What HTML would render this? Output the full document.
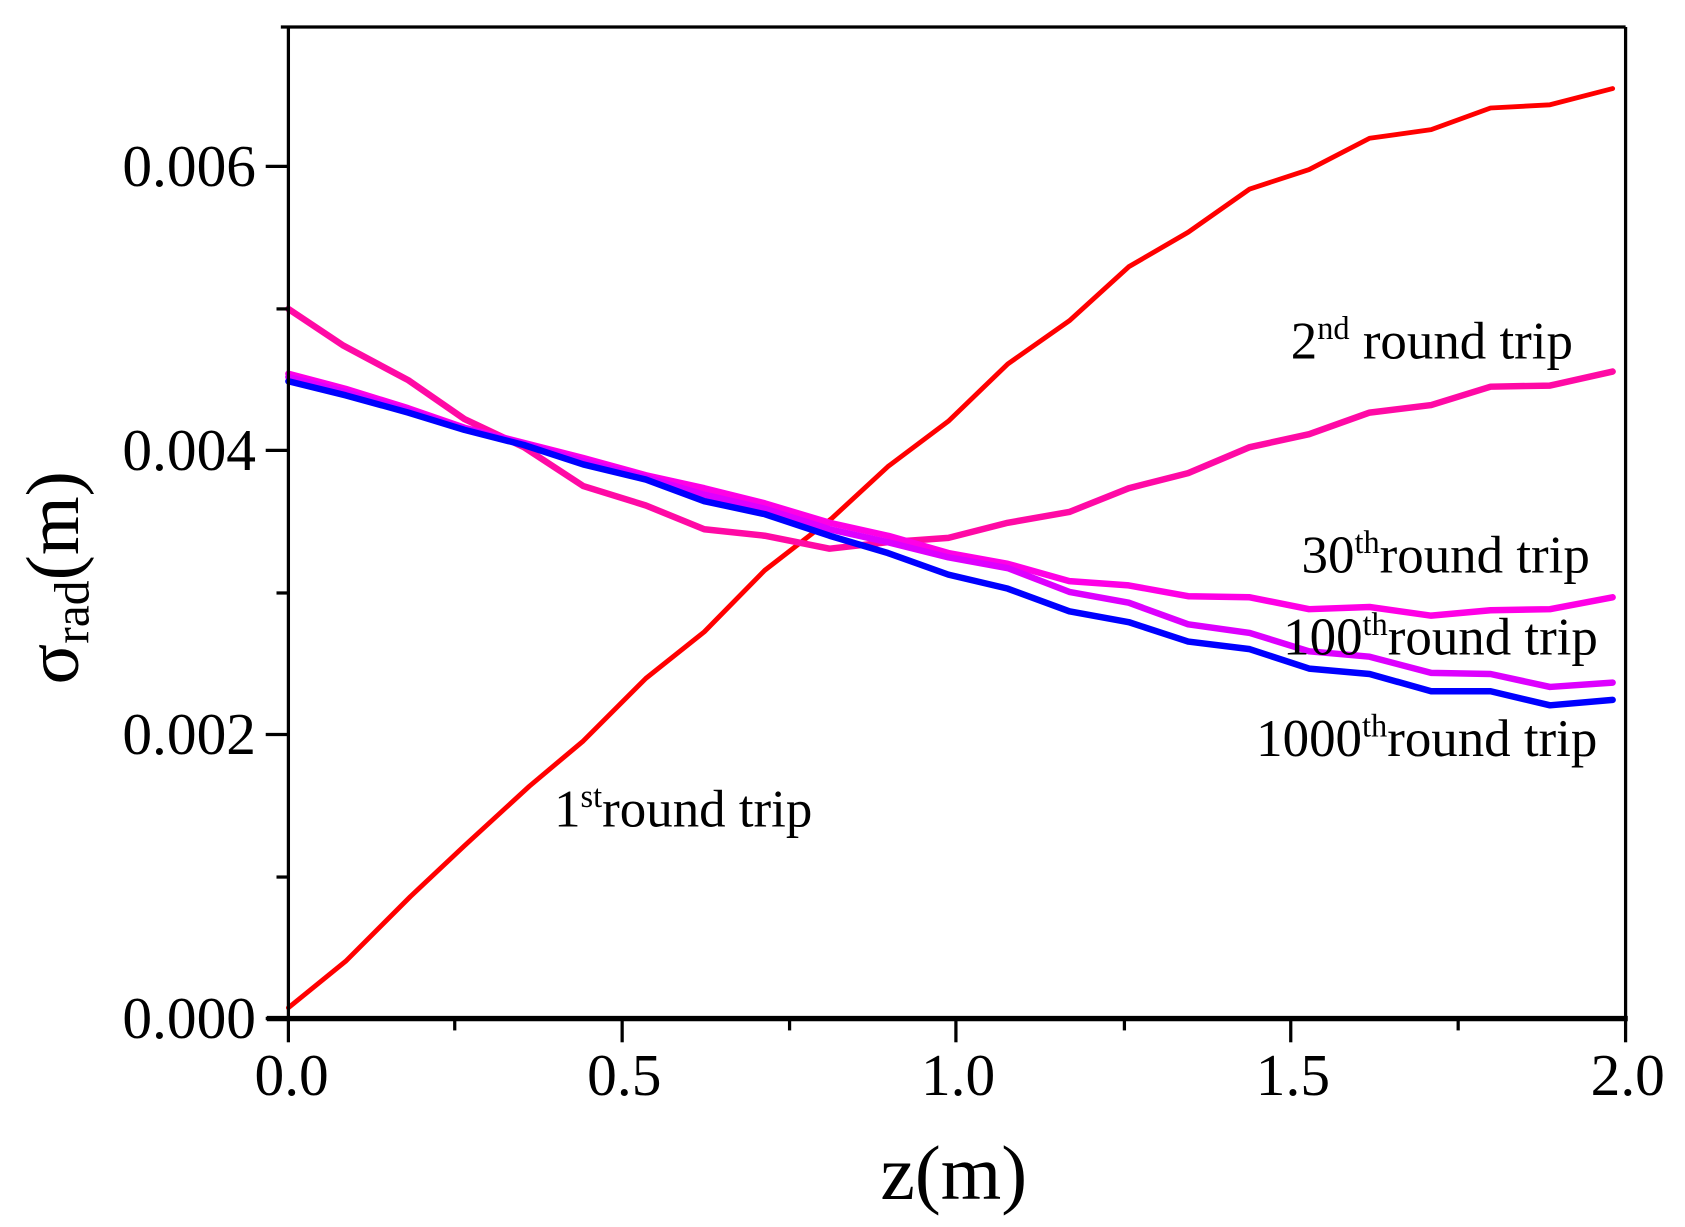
<!DOCTYPE html>
<html><head><meta charset="utf-8"><style>
html,body{margin:0;padding:0;background:#fff;}
svg{display:block;}
text{font-family:"Liberation Serif",serif;fill:#000;}
</style></head><body>
<svg width="1685" height="1227" viewBox="0 0 1560 1136" preserveAspectRatio="none" xmlns="http://www.w3.org/2000/svg">
<g fill="none" stroke-linejoin="round" stroke-linecap="round">
<polyline stroke="#ff0000" stroke-width="4.5" points="267,933 320,890 380,830 430,783 490,728 540,686 598,628 652,585 708,528 770,480 822,432 878,390 933,337 990,297 1045,247 1100,215 1157,175 1212,157 1268,128 1325,120 1380,100 1435,97 1493,82"/>
<polyline stroke="#ff0aa5" stroke-width="6" points="267,286 318,320 378,352 430,388 485,414 540,450 598,468 652,490 708,496 768,508 822,502 878,498 933,484 990,474 1045,452 1100,438 1157,414 1212,402 1268,382 1325,375 1380,358 1435,357 1493,344"/>
<polyline stroke="#ff00e6" stroke-width="6" points="267,346 320,360 378,378 430,396 485,410 540,424 598,440 652,452 708,466 768,484 822,496 878,512 933,522 990,538 1045,542 1100,552 1157,553 1212,564 1268,562 1325,570 1380,565 1435,564 1493,553"/>
<polyline stroke="#dd00ff" stroke-width="6" points="267,349 320,363 378,380 430,397 485,411 540,427 598,442 652,458 708,471 768,490 822,502 878,516 933,526 990,548 1045,558 1100,578 1157,586 1212,603 1268,608 1325,623 1380,624 1435,636 1493,632"/>
<polyline stroke="#0000ff" stroke-width="6" points="267,353 320,366 378,382 430,398 485,412 540,430 598,444 652,464 708,476 768,496 822,512 878,532 933,545 990,566 1045,576 1100,594 1157,601 1212,619 1268,624 1325,640 1380,640 1435,653 1493,648"/>
</g>
<g stroke="#000" fill="none">
<line x1="260" y1="25" x2="1505" y2="25" stroke-width="3"/>
<line x1="1505" y1="25" x2="1505" y2="943" stroke-width="3"/>
<line x1="267" y1="25" x2="267" y2="943" stroke-width="3"/>
<line x1="247" y1="943" x2="1507" y2="943" stroke-width="5"/>
<line x1="246" y1="943" x2="267" y2="943" stroke-width="3"/>
<line x1="246" y1="680" x2="267" y2="680" stroke-width="3"/>
<line x1="246" y1="417" x2="267" y2="417" stroke-width="3"/>
<line x1="246" y1="154" x2="267" y2="154" stroke-width="3"/>
<line x1="256" y1="812" x2="267" y2="812" stroke-width="3"/>
<line x1="256" y1="549" x2="267" y2="549" stroke-width="3"/>
<line x1="256" y1="286" x2="267" y2="286" stroke-width="3"/>
<line x1="267" y1="943" x2="267" y2="965" stroke-width="3"/>
<line x1="576" y1="943" x2="576" y2="965" stroke-width="3"/>
<line x1="885" y1="943" x2="885" y2="965" stroke-width="3"/>
<line x1="1195" y1="943" x2="1195" y2="965" stroke-width="3"/>
<line x1="1505" y1="943" x2="1505" y2="965" stroke-width="3"/>
<line x1="421" y1="943" x2="421" y2="954" stroke-width="3"/>
<line x1="731" y1="943" x2="731" y2="954" stroke-width="3"/>
<line x1="1041" y1="943" x2="1041" y2="954" stroke-width="3"/>
<line x1="1350" y1="943" x2="1350" y2="954" stroke-width="3"/>
</g>
<g font-size="55" text-anchor="end">
<text x="237" y="961">0.000</text>
<text x="237" y="698">0.002</text>
<text x="237" y="435">0.004</text>
<text x="237" y="172">0.006</text>
</g>
<g font-size="55" text-anchor="middle">
<text x="270" y="1014">0.0</text>
<text x="578" y="1014">0.5</text>
<text x="887" y="1014">1.0</text>
<text x="1197" y="1014">1.5</text>
<text x="1507" y="1014">2.0</text>
</g>
<text x="883" y="1110" font-size="72" text-anchor="middle">z(m)</text>
<text transform="translate(72,535) rotate(-90)" font-size="70" text-anchor="middle">σ<tspan font-size="46" dy="10">rad</tspan><tspan dy="-10">(m)</tspan></text>
<g font-size="49">
<text x="1195" y="332">2<tspan font-size="30" dy="-18">nd</tspan><tspan dy="18"> round trip</tspan></text>
<text x="1205" y="530">30<tspan font-size="30" dy="-18">th</tspan><tspan dy="18">round trip</tspan></text>
<text x="1188" y="606">100<tspan font-size="30" dy="-18">th</tspan><tspan dy="18">round trip</tspan></text>
<text x="1163" y="700">1000<tspan font-size="30" dy="-18">th</tspan><tspan dy="18">round trip</tspan></text>
<text x="513" y="765">1<tspan font-size="30" dy="-18">st</tspan><tspan dy="18">round trip</tspan></text>
</g>
</svg>
</body></html>
